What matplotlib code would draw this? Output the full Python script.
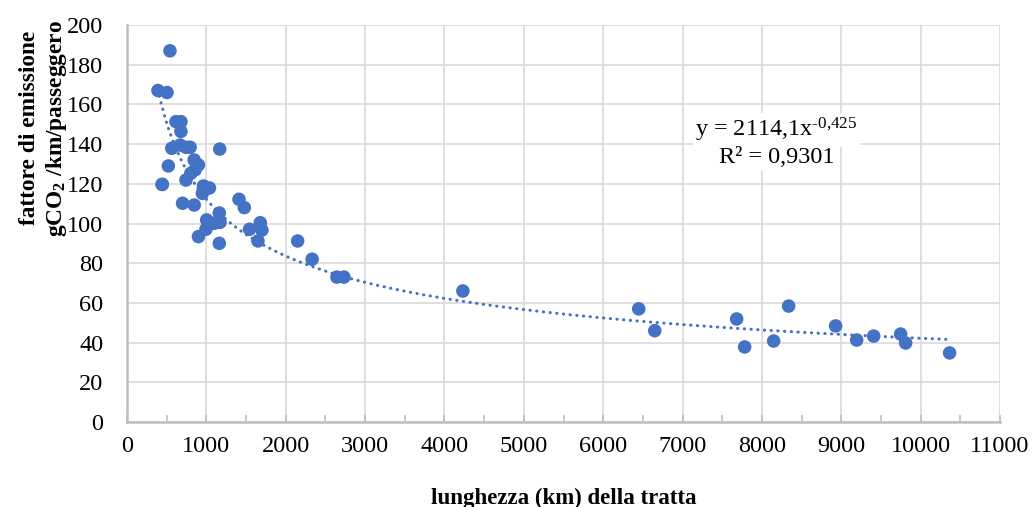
import numpy as np
import matplotlib
matplotlib.use("Agg")
import matplotlib.pyplot as plt
from matplotlib.ticker import MultipleLocator

plt.rcParams['font.family'] = ['Liberation Serif', 'DejaVu Serif']
plt.rcParams['mathtext.fontset'] = 'custom'
plt.rcParams['mathtext.rm'] = 'Liberation Serif'
plt.rcParams['mathtext.it'] = 'Liberation Serif:italic'
plt.rcParams['mathtext.bf'] = 'Liberation Serif:bold'

# lunghezza della tratta (km)
lunghezza = [541, 390, 504, 441, 521, 564, 617, 680, 680, 669, 743, 795,
             1168, 846, 900, 858, 804, 446, 743, 963, 1039, 950, 700, 847,
             1411, 1478, 1163, 1004, 1100, 1172, 995, 1679, 1700, 1544, 1650,
             900, 1163, 2150, 2333, 2645, 2733, 4232, 6448, 6650, 7682, 7783,
             8148, 8337, 8929, 9194, 9408, 9748, 9811, 10365]
# fattore di emissione gCO2/km/passeggero
emissione = [187, 167, 166, 119.7, 129, 137.9, 151.3, 151.3, 146.4, 139.5, 138.4, 138.4,
             137.5, 132, 129.5, 127, 125.3, 119.7, 121.9, 118.9, 117.9, 115.2, 110.2, 109.3,
             112.2, 108, 105.3, 101.8, 100.1, 100.6, 97.1, 100.4, 96.7, 97.1, 91.2,
             93.4, 90, 91.2, 82, 73, 73, 66, 57, 46, 51.9, 37.8,
             40.8, 58.4, 48.4, 41.3, 43.3, 44.3, 39.8, 34.8]

# trendline di potenza (da Excel)
coef_a = 2114.1
coef_b = -0.425

blu = '#4472C4'

fig = plt.figure(figsize=(10.36, 5.07), dpi=100)
ax = fig.add_axes([127/1036, 1-422/507, (1000-127)/1036, (422-25)/507])

x_fit = np.linspace(min(lunghezza), max(lunghezza), 400)
ax.plot(x_fit, coef_a * x_fit ** coef_b, color=blu, linewidth=2.2,
        linestyle=(0, (0.1, 2.1)), dash_capstyle='round', zorder=2)
ax.scatter(lunghezza, emissione, s=95, color=blu, edgecolors='none', zorder=3)

ax.set_xlim(0, 11000)
ax.set_ylim(0, 200)
ax.xaxis.set_major_locator(MultipleLocator(1000))
ax.xaxis.set_minor_locator(MultipleLocator(500))
ax.yaxis.set_major_locator(MultipleLocator(20))
ax.grid(True, color='#d9d9d9', linewidth=1.2, zorder=0)
ax.set_axisbelow(True)

for s in ['top', 'right']:
    ax.spines[s].set_visible(False)
for s in ['left', 'bottom']:
    ax.spines[s].set_color('#bfbfbf')
    ax.spines[s].set_linewidth(1.8)

ax.tick_params(axis='x', which='both', direction='in', length=5, color='#bfbfbf',
               width=1.2, labelsize=17.5, pad=10)
ax.tick_params(axis='y', length=0, labelsize=17.5, pad=17)

ax.set_xlabel('lunghezza (km) della tratta', fontsize=16.5, fontweight='bold', labelpad=22)
fig.text(44/1036, 1-128/507, 'fattore di emissione\ngCO$_\\mathbf{2}$ /km/passeggero',
         rotation=90, ha='center', va='center', fontsize=16.8, fontweight='bold',
         multialignment='center', linespacing=1.2)

box = dict(facecolor='white', edgecolor='none', pad=2)
ax.text(8182, 147, 'y = 2114,1x$^{\u2010 0{,}425}$'.replace('\u2010 ', '\u2010'),
        ha='center', va='center', fontsize=17.5, bbox=box, zorder=4)
ax.text(8182, 133, 'R² = 0,9301', ha='center', va='center', fontsize=17.5,
        bbox=box, zorder=4)

fig.savefig('out.png', dpi=100)
